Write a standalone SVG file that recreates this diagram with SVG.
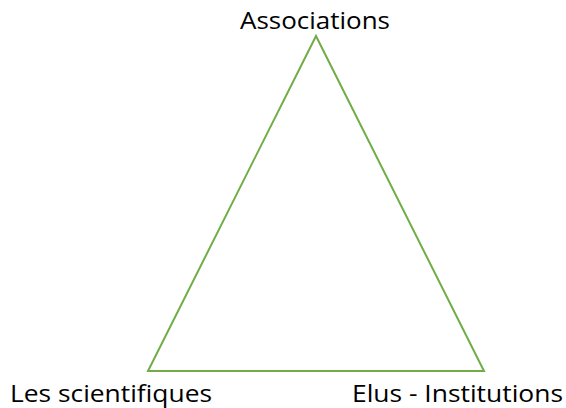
<svg xmlns="http://www.w3.org/2000/svg" width="566" height="408" viewBox="0 0 566 408">
<style>
.lbl{font-family:"Open Sans","Noto Sans","Liberation Sans",sans-serif;font-size:24px;fill:#000}
.edge{fill:none;stroke:#70AD47;stroke-width:2;stroke-linejoin:miter}
</style>
<rect width="566" height="408" fill="#fff"/>
<g id="connectors">
<polygon class="edge" points="316,36 148,371 484,371"/>
</g>
<g id="associations"><text class="lbl" x="315" y="29" text-anchor="middle" textLength="150" lengthAdjust="spacingAndGlyphs">Associations</text></g>
<g id="scientifiques"><text class="lbl" x="10" y="402" textLength="202" lengthAdjust="spacingAndGlyphs">Les scientifiques</text></g>
<g id="elus"><text class="lbl" x="352" y="402" textLength="211" lengthAdjust="spacingAndGlyphs">Elus - Institutions</text></g>
</svg>
